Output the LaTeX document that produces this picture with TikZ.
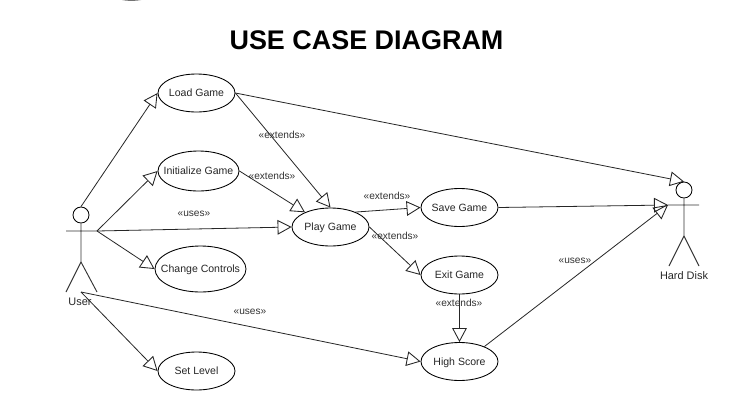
\documentclass[tikz,border=0pt]{standalone}
\usepackage{fontspec}
\setmainfont{Liberation Sans}
\usetikzlibrary{shapes.geometric,arrows.meta}
\newcommand{\uctext}[1]{\raisebox{-0.36em}[0pt][0pt]{\makebox[0pt]{#1}}}
\tikzset{
  usecase/.style={draw=black,line width=0.65pt,ellipse,inner sep=0pt,minimum width=#1,font=\fontsize{7.9}{9}\selectfont,text=black!85},
  usecase/.default=57.75pt,
  conn/.style={draw=black!85,line width=0.6pt,-{Triangle[open,length=10.5pt,width=11pt,line width=0.65pt]},shorten >=0pt},
  stereo/.style={font=\fontsize{7.6}{9}\selectfont,text=black!80,inner sep=0pt},
  limb/.style={draw=black!80,line width=0.7pt},
  head/.style={draw=black,line width=0.65pt,circle,minimum size=12pt,inner sep=0pt},
  actorname/.style={font=\fontsize{8.2}{10}\selectfont,text=black!85,inner sep=0pt}
}
\begin{document}
\begin{tikzpicture}[x=0.75pt,y=-0.75pt]
\useasboundingbox[fill=white] (0,0) rectangle (740,408);
\fill[black!55] (122,0) -- (141,0) .. controls (136,1.2) and (127,1.2) .. (122,0) -- cycle;
\node[font=\bfseries\fontsize{20.2}{24}\selectfont,inner sep=0pt] (title) at (366.5,40) {USE CASE DIAGRAM};

% use cases
\node[usecase,minimum height=28.5pt] (load) at (196.5,93) {\uctext{Load Game}};
\node[usecase=60.75pt,minimum height=30pt] (init) at (198.5,171) {\uctext{Initialize Game}};
\node[usecase=68.25pt,minimum height=34.5pt] (change) at (200.5,269) {\uctext{Change Controls}};
\node[usecase,minimum height=28.5pt] (level) at (196.5,371) {\uctext{Set Level}};
\node[usecase,minimum height=28.5pt] (play) at (330.5,227) {\uctext{Play Game}};
\node[usecase,minimum height=28.5pt] (save) at (459.5,207.5) {\uctext{Save Game}};
\node[usecase,minimum height=28.5pt] (exit) at (459.5,275) {\uctext{Exit Game}};
\node[usecase,minimum height=28.5pt] (score) at (459.5,361.5) {\uctext{High Score}};

% actors
\node[head] (userhead) at (81,215) {};
\coordinate (userneck) at (81,231);
\coordinate (userL) at (66,231);
\coordinate (userR) at (97,231);
\coordinate (userhip) at (81,262);
\coordinate (userfootL) at (66,292);
\coordinate (userfootR) at (97,292);
\coordinate (userbase) at (81,292);
\draw[limb] (userhead.south) -- (userhip) (userL) -- (userR) (userfootL) -- (userhip) -- (userfootR);
\node[actorname] (username) at (80,302) {User};

\node[head] (diskhead) at (684,190) {};
\coordinate (diskL) at (668,205);
\coordinate (diskR) at (699,205);
\coordinate (diskhip) at (684,236);
\coordinate (diskfootL) at (669,266);
\coordinate (diskfootR) at (699,266);
\draw[limb] (diskhead.south) -- (diskhip) (diskL) -- (diskR) (diskfootL) -- (diskhip) -- (diskfootR);
\node[actorname] (diskname) at (684,276) {Hard Disk};

% connectors
\draw[conn] (userhead.north) -- (load.west);
\draw[conn] (userR) -- (init.west);
\draw[conn] (userR) -- (play.west);
\draw[conn] (userR) -- (change.west);
\draw[conn] (userbase) -- (level.west);
\draw[conn] (userbase) -- (score.west);
\draw[conn] (load.east) -- (play.north);
\draw[conn] (load.east) -- (diskhead.north);
\draw[conn] (init.east) -- (play.150);
\draw[conn] (play.31) -- (save.west);
\draw[conn] (play.east) -- (exit.west);
\draw[conn] (exit.south) -- (score.north);
\draw[conn] (save.east) -- (diskL);
\draw[conn] (score.31) -- (diskL);

% stereotypes
\node[stereo] (s1) at (282,135) {«extends»};
\node[stereo] (s2) at (272,176) {«extends»};
\node[stereo] (s3) at (387,196) {«extends»};
\node[stereo] (s4) at (395,236) {«extends»};
\node[stereo] (s5) at (459,303) {«extends»};
\node[stereo] (u1) at (194,214) {«uses»};
\node[stereo] (u2) at (250,312) {«uses»};
\node[stereo] (u3) at (575,261) {«uses»};
\end{tikzpicture}
\end{document}
